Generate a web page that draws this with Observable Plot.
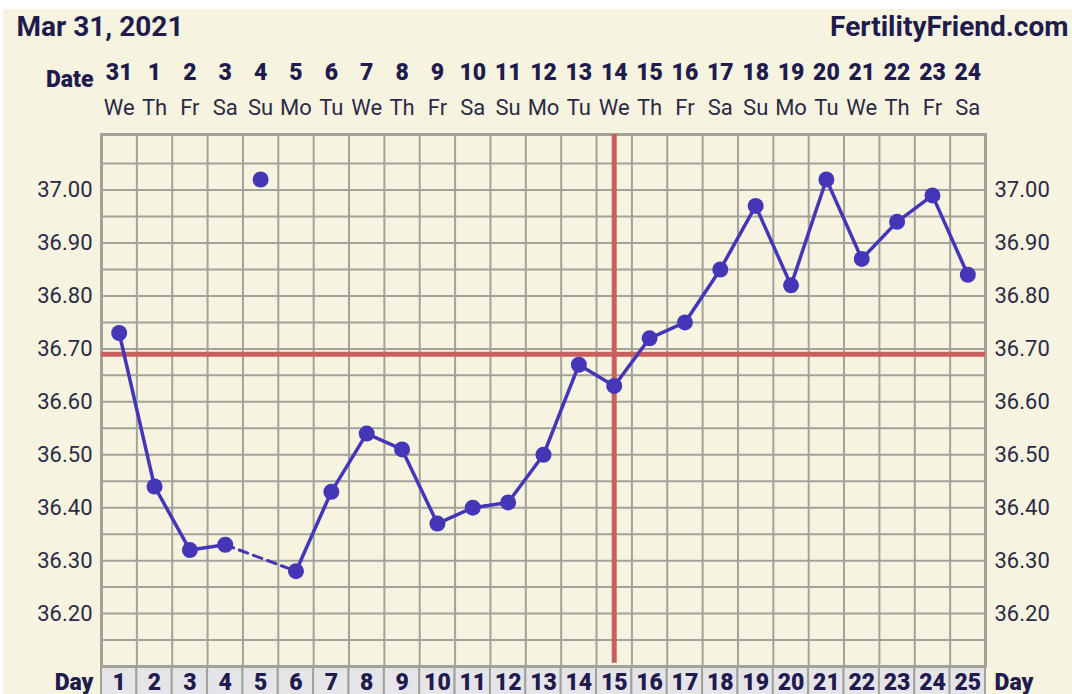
<!DOCTYPE html>
<html>
<head>
<meta charset="utf-8">
<script src="https://cdn.jsdelivr.net/npm/d3@7"></script>
<script src="https://cdn.jsdelivr.net/npm/@observablehq/plot@0.6"></script>
<style>
  html, body { margin: 0; padding: 0; background: #ffffff; }
  #chart { position: absolute; left: 3px; top: 9px; }
</style>
</head>
<body>
<div id="chart"></div>
<script>
// ---- data ----
const chartTitle = "Mar 31, 2021";
const siteName = "FertilityFriend.com";
const cycleDays = [1,2,3,4,5,6,7,8,9,10,11,12,13,14,15,16,17,18,19,20,21,22,23,24,25];
const dateLabels = ["31","1","2","3","4","5","6","7","8","9","10","11","12","13","14","15","16","17","18","19","20","21","22","23","24"];
const weekdayLabels = ["We","Th","Fr","Sa","Su","Mo","Tu","We","Th","Fr","Sa","Su","Mo","Tu","We","Th","Fr","Sa","Su","Mo","Tu","We","Th","Fr","Sa"];
const temps = [36.73,36.44,36.32,36.33,37.02,36.28,36.43,36.54,36.51,36.37,36.40,36.41,36.50,36.67,36.63,36.72,36.75,36.85,36.97,36.82,37.02,36.87,36.94,36.99,36.84];
const discardedDays = [5];
const coverline = 36.69;
const ovulationDay = 15;
const yTickLabels = [36.2,36.3,36.4,36.5,36.6,36.7,36.8,36.9,37.0];

// ---- derived table ----
const rows = cycleDays.map((d, i) => ({day: d, temp: temps[i], date: dateLabels[i], wd: weekdayLabels[i]}));
const kept = rows.filter(r => !discardedDays.includes(r.day));
const solid = kept.map(r => ({...r, seg: discardedDays.filter(x => x < r.day).length}));
const bridges = [];
discardedDays.forEach((x, k) => {
  const before = kept.filter(r => r.day < x).slice(-1)[0];
  const after = kept.find(r => r.day > x);
  if (before && after) { bridges.push({...before, seg: k}); bridges.push({...after, seg: k}); }
});
const gridX = d3.range(0.5, 25.51, 1);
const gridY = d3.range(36.15, 37.06, 0.05).map(v => +v.toFixed(2));

const navy = "#1f1c4d";
const textCol = "#2b2a45";
const blue = "#4536b8";
const red = "#c95f5f";
const gridCol = "#a3a29a";
const M = "middle";

const chart = Plot.plot({
  width: 1069,
  height: 685,
  marginLeft: 98,
  marginRight: 87,
  marginTop: 125,
  marginBottom: 28,
  style: {background: "#f6f4e1", color: textCol, fontFamily: "Roboto, sans-serif", overflow: "visible"},
  x: {domain: [0.5, 25.5], axis: null},
  y: {domain: [36.1, 37.105], label: null},
  marks: [
    Plot.rect(cycleDays, {x1: d => d - 0.5, x2: d => d + 0.5, y1: 36.1, y2: 36.03, fill: "#e5e5e9", stroke: gridCol, strokeWidth: 2}),
    Plot.ruleY(gridY, {stroke: gridCol, strokeWidth: 2}),
    Plot.ruleX(gridX, {stroke: gridCol, strokeWidth: 2}),
    Plot.frame({stroke: gridCol, strokeWidth: 3}),
    Plot.ruleY([coverline], {stroke: red, strokeWidth: 5}),
    Plot.ruleX([ovulationDay], {stroke: red, strokeWidth: 5, y1: 37.105, y2: 36.106}),
    Plot.line(bridges, {x: "day", y: "temp", z: "seg", stroke: blue, strokeWidth: 3, strokeDasharray: "9,6"}),
    Plot.line(solid, {x: "day", y: "temp", z: "seg", stroke: blue, strokeWidth: 3.5}),
    Plot.dot(rows, {x: "day", y: "temp", r: 8, fill: blue}),
    Plot.axisY(yTickLabels, {anchor: "left", label: null, tickSize: 0, tickPadding: 9, fontSize: 22, tickFormat: d => d.toFixed(2), fill: textCol}),
    Plot.axisY(yTickLabels, {anchor: "right", label: null, tickSize: 0, tickPadding: 9, fontSize: 22, tickFormat: d => d.toFixed(2), fill: textCol}),
    Plot.text(rows, {x: "day", text: "date", frameAnchor: "top", lineAnchor: M, dy: -62, fontSize: 23, fontWeight: 900, fill: navy, letterSpacing: "-0.5px"}),
    Plot.text(rows, {x: "day", text: "wd", frameAnchor: "top", lineAnchor: M, dy: -27, fontSize: 22, fill: textCol}),
    Plot.text(["Date"], {frameAnchor: "top-left", lineAnchor: M, dx: -8, dy: -55, textAnchor: "end", fontSize: 23, fontWeight: 900, fill: navy, letterSpacing: "-0.8px"}),
    Plot.text([chartTitle], {frameAnchor: "top-left", lineAnchor: M, dx: -85, dy: -107, textAnchor: "start", fontSize: 28, fontWeight: "bold", fill: navy, letterSpacing: "-0.8px"}),
    Plot.text([siteName], {frameAnchor: "top-right", lineAnchor: M, dx: 83, dy: -107, textAnchor: "end", fontSize: 28, fontWeight: "bold", fill: navy, letterSpacing: "-0.8px"}),
    Plot.text(rows, {x: "day", text: d => String(d.day), frameAnchor: "bottom", lineAnchor: M, dy: 16, fontSize: 23, fontWeight: 900, fill: navy, letterSpacing: "-0.5px"}),
    Plot.text(["Day"], {frameAnchor: "bottom-left", lineAnchor: M, dx: -8, dy: 16, textAnchor: "end", fontSize: 23, fontWeight: 900, fill: navy, letterSpacing: "-0.8px"}),
    Plot.text(["Day"], {frameAnchor: "bottom-right", lineAnchor: M, dx: 9, dy: 16, textAnchor: "start", fontSize: 23, fontWeight: 900, fill: navy, letterSpacing: "-0.8px"})
  ]
});
document.getElementById("chart").appendChild(chart);
</script>
</body>
</html>
